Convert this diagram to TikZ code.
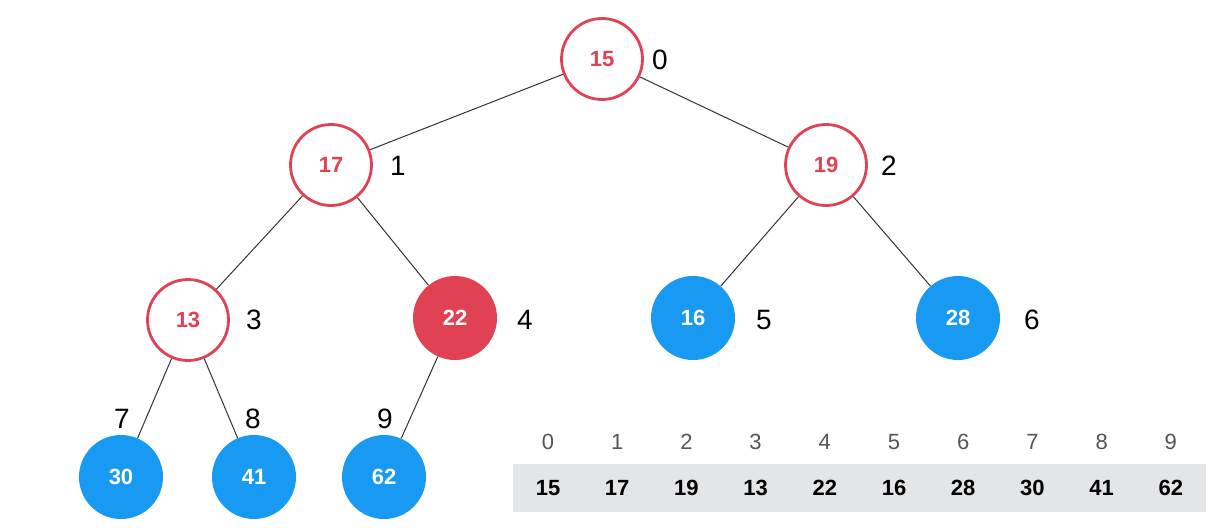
\documentclass[tikz,border=0pt]{standalone}
\usepackage{fontspec}
\setmainfont{Liberation Sans}
\definecolor{heapred}{RGB}{224,66,84}
\definecolor{heapblue}{RGB}{24,154,242}
\definecolor{edgegray}{RGB}{50,50,50}
\definecolor{cellgray}{RGB}{228,229,231}
\definecolor{idxgray}{RGB}{85,85,85}
\tikzset{
  ring/.style={circle, draw=heapred, line width=2.8pt, fill=white, minimum size=81pt, inner sep=0pt,
    text=heapred, font=\fontsize{22}{22}\selectfont\bfseries},
  hot/.style={circle, fill=heapred, minimum size=84pt, inner sep=0pt,
    text=white, font=\fontsize{22}{22}\selectfont\bfseries},
  leaf/.style={circle, fill=heapblue, minimum size=84pt, inner sep=0pt,
    text=white, font=\fontsize{22}{22}\selectfont\bfseries},
  idx/.style={font=\fontsize{28}{28}\selectfont, text=black, inner sep=0pt},
  link/.style={draw=edgegray, line width=1pt},
  arridx/.style={font=\fontsize{22}{22}\selectfont, text=idxgray, inner sep=0pt},
  arrval/.style={font=\fontsize{22}{22}\selectfont\bfseries, text=black, inner sep=0pt},
}
\begin{document}
\begin{tikzpicture}[x=1pt,y=-1pt]
\useasboundingbox (0,0) rectangle (1230,527);

% tree nodes
\node[ring] (n0) at (602,59) {15};
\node[ring] (n1) at (331,165) {17};
\node[ring] (n2) at (826,165) {19};
\node[ring] (n3) at (188,320) {13};
\node[hot]  (n4) at (455,318) {22};
\node[leaf] (n5) at (693,318) {16};
\node[leaf] (n6) at (958,318) {28};
\node[leaf] (n7) at (121,477) {30};
\node[leaf] (n8) at (254,477) {41};
\node[leaf] (n9) at (384,477) {62};

% edges
\draw[link] (n0) -- (n1);
\draw[link] (n0) -- (n2);
\draw[link] (n1) -- (n3);
\draw[link] (n1) -- (n4);
\draw[link] (n2) -- (n5);
\draw[link] (n2) -- (n6);
\draw[link] (n3) -- (n7);
\draw[link] (n3) -- (n8);
\draw[link] (n4) -- (n9);

% index labels beside the nodes
\node[idx] (l0) at (660,60) {0};
\node[idx] (l1) at (398,166) {1};
\node[idx] (l2) at (889,166) {2};
\node[idx] (l3) at (254,320) {3};
\node[idx] (l4) at (525,320) {4};
\node[idx] (l5) at (764,320) {5};
\node[idx] (l6) at (1032,320) {6};
\node[idx] (l7) at (122,419) {7};
\node[idx] (l8) at (253,419) {8};
\node[idx] (l9) at (385,419) {9};

% array view of the heap
\fill[cellgray] (513,464) rectangle (1206,512);
\foreach \i/\v in {0/15,1/17,2/19,3/13,4/22,5/16,6/28,7/30,8/41,9/62} {
  \node[arridx] (a\i) at (548+69.2*\i,442) {\i};
  \node[arrval] (v\i) at (548+69.2*\i,488) {\v};
}
\end{tikzpicture}
\end{document}
